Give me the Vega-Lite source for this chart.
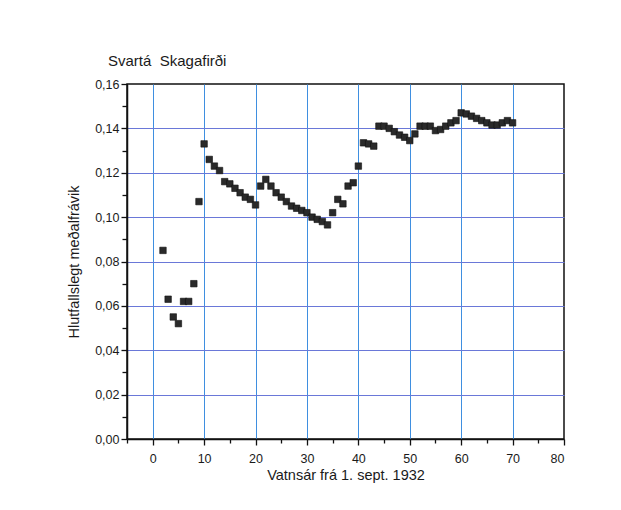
{
  "$schema": "https://vega.github.io/schema/vega-lite/v6.json",
  "autosize": {"type": "none"},
  "width": 437,
  "height": 355,
  "padding": {"left": 127, "top": 84, "right": 57, "bottom": 71},
  "background": "white",
  "title": {
    "text": "Svartá\u00a0 Skagafirði",
    "anchor": "start",
    "frame": "group",
    "dx": -19,
    "offset": 9,
    "font": "Liberation Sans",
    "fontSize": 15,
    "fontWeight": "normal",
    "color": "#1a1a1a"
  },
  "data": {
    "values": [
      {"ar": 2, "v": 0.085}, {"ar": 3, "v": 0.063}, {"ar": 4, "v": 0.055}, {"ar": 5, "v": 0.052},
      {"ar": 6, "v": 0.062}, {"ar": 7, "v": 0.062}, {"ar": 8, "v": 0.070}, {"ar": 9, "v": 0.107},
      {"ar": 10, "v": 0.133}, {"ar": 11, "v": 0.126}, {"ar": 12, "v": 0.123}, {"ar": 13, "v": 0.121},
      {"ar": 14, "v": 0.116}, {"ar": 15, "v": 0.115}, {"ar": 16, "v": 0.113}, {"ar": 17, "v": 0.111},
      {"ar": 18, "v": 0.109}, {"ar": 19, "v": 0.108}, {"ar": 20, "v": 0.1055}, {"ar": 21, "v": 0.114},
      {"ar": 22, "v": 0.117}, {"ar": 23, "v": 0.114}, {"ar": 24, "v": 0.111}, {"ar": 25, "v": 0.109},
      {"ar": 26, "v": 0.107}, {"ar": 27, "v": 0.105}, {"ar": 28, "v": 0.104}, {"ar": 29, "v": 0.103},
      {"ar": 30, "v": 0.102}, {"ar": 31, "v": 0.100}, {"ar": 32, "v": 0.099}, {"ar": 33, "v": 0.098},
      {"ar": 34, "v": 0.0965}, {"ar": 35, "v": 0.102}, {"ar": 36, "v": 0.108}, {"ar": 37, "v": 0.106},
      {"ar": 38, "v": 0.114}, {"ar": 39, "v": 0.1155}, {"ar": 40, "v": 0.123}, {"ar": 41, "v": 0.1335},
      {"ar": 42, "v": 0.133}, {"ar": 43, "v": 0.132}, {"ar": 44, "v": 0.141}, {"ar": 45, "v": 0.141},
      {"ar": 46, "v": 0.140}, {"ar": 47, "v": 0.1385}, {"ar": 48, "v": 0.137}, {"ar": 49, "v": 0.136},
      {"ar": 50, "v": 0.1345}, {"ar": 51, "v": 0.1375}, {"ar": 52, "v": 0.141}, {"ar": 53, "v": 0.141},
      {"ar": 54, "v": 0.141}, {"ar": 55, "v": 0.139}, {"ar": 56, "v": 0.1395}, {"ar": 57, "v": 0.141},
      {"ar": 58, "v": 0.1425}, {"ar": 59, "v": 0.1435}, {"ar": 60, "v": 0.147}, {"ar": 61, "v": 0.1465},
      {"ar": 62, "v": 0.1455}, {"ar": 63, "v": 0.1445}, {"ar": 64, "v": 0.1435}, {"ar": 65, "v": 0.1425},
      {"ar": 66, "v": 0.1415}, {"ar": 67, "v": 0.1415}, {"ar": 68, "v": 0.1425}, {"ar": 69, "v": 0.1435},
      {"ar": 70, "v": 0.1425}
    ]
  },
  "mark": {"type": "point", "shape": "square", "filled": true, "size": 42, "color": "#2a2a2a", "opacity": 1, "stroke": "#111111", "strokeWidth": 0.6},
  "encoding": {
    "x": {
      "field": "ar",
      "type": "quantitative",
      "scale": {"domain": [-5, 80], "nice": false, "zero": false},
      "axis": {
        "title": "Vatnsár frá 1. sept. 1932",
        "values": [-5, 0, 5, 10, 15, 20, 25, 30, 35, 40, 45, 50, 55, 60, 65, 70, 75, 80],
        "labelExpr": "datum.value % 10 === 0 ? format(datum.value, 'd') : ''",
        "tickSize": {"condition": {"test": "datum.value % 10 === 0", "value": 6}, "value": 4},
        "gridOpacity": {"condition": {"test": "datum.value % 10 === 0 && datum.value < 80", "value": 1}, "value": 0},
        "gridColor": "#3f8fe0",
        "gridWidth": 1,
        "labelPadding": 7,
        "titlePadding": 4
      }
    },
    "y": {
      "field": "v",
      "type": "quantitative",
      "scale": {"domain": [0, 0.16], "nice": false},
      "axis": {
        "title": "Hlutfallslegt meðalfrávik",
        "values": [0, 0.01, 0.02, 0.03, 0.04, 0.05, 0.06, 0.07, 0.08, 0.09, 0.1, 0.11, 0.12, 0.13, 0.14, 0.15, 0.16],
        "labelExpr": "round(datum.value * 100) % 2 === 0 ? replace(format(datum.value, '.2f'), '.', ',') : ''",
        "tickSize": {"condition": {"test": "round(datum.value * 100) % 2 === 0", "value": 6}, "value": 5},
        "gridOpacity": {"condition": {"test": "round(datum.value * 100) % 2 === 0 && datum.value > 0.005 && datum.value < 0.155", "value": 1}, "value": 0},
        "gridColor": "#6a78d8",
        "gridWidth": 1,
        "labelPadding": 2,
        "titlePadding": 13
      }
    }
  },
  "config": {
    "view": {"stroke": "#111111", "strokeWidth": 1.5},
    "axis": {
      "domainColor": "#111111",
      "domainWidth": 1.5,
      "tickColor": "#111111",
      "tickWidth": 1.3,
      "labelFont": "Liberation Sans",
      "labelFontSize": 12.5,
      "labelColor": "#1a1a1a",
      "titleFont": "Liberation Sans",
      "titleFontSize": 14.5,
      "titleFontWeight": "normal",
      "titleColor": "#1a1a1a",
      "labelOverlap": false
    }
  }
}
